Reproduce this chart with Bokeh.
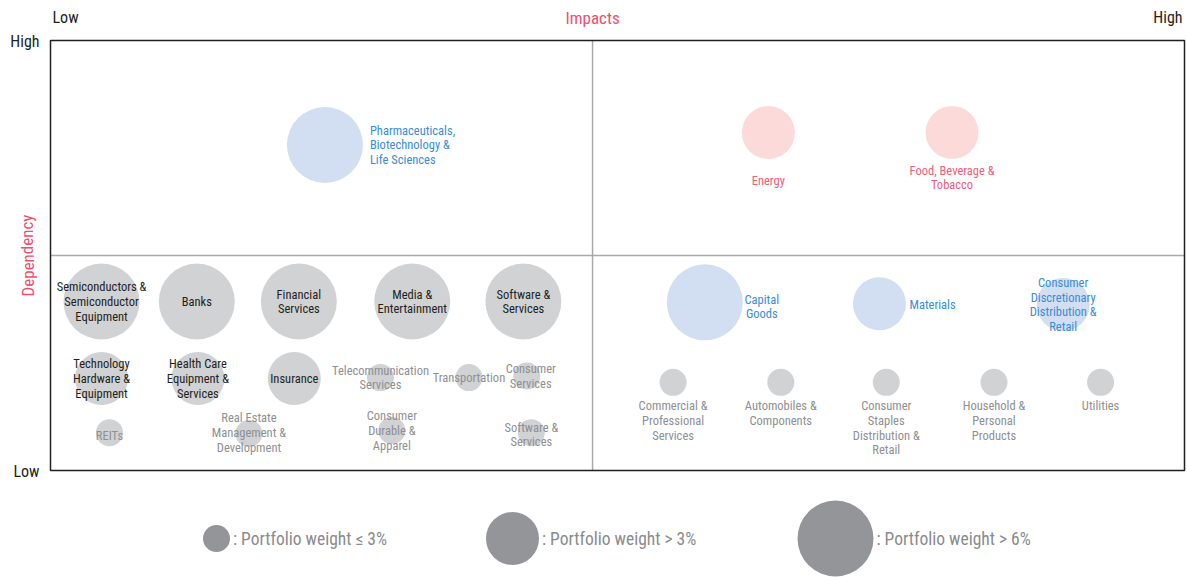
from bokeh.plotting import figure
from bokeh.models import Range1d, ColumnDataSource
from bokeh.embed import file_html
from bokeh.resources import INLINE
from bokeh.core.properties import value

# ---------------- data ----------------
sectors = [
    "Pharmaceuticals,\nBiotechnology &\nLife Sciences",
    "Energy",
    "Food, Beverage &\nTobacco",
    "Semiconductors &\nSemiconductor\nEquipment",
    "Banks",
    "Financial\nServices",
    "Media &\nEntertainment",
    "Software &\nServices",
    "Technology\nHardware &\nEquipment",
    "Health Care\nEquipment &\nServices",
    "Insurance",
    "Telecommunication\nServices",
    "Transportation",
    "Consumer\nServices",
    "REITs",
    "Real Estate\nManagement &\nDevelopment",
    "Consumer\nDurable &\nApparel",
    "Software &\nServices",
    "Capital\nGoods",
    "Materials",
    "Consumer\nDiscretionary\nDistribution &\nRetail",
    "Commercial &\nProfessional\nServices",
    "Automobiles &\nComponents",
    "Consumer\nStaples\nDistribution &\nRetail",
    "Household &\nPersonal\nProducts",
    "Utilities",
]
impact = [2.42, 6.33, 7.95, 0.45, 1.29, 2.19, 3.19, 4.17, 0.45, 1.30, 2.15,
          2.91, 3.69, 4.20, 0.52, 1.75, 3.01, 4.24, 5.77, 7.31, 8.93,
          5.49, 6.44, 7.37, 8.32, 9.26]
dependency = [7.57, 7.86, 7.86, 3.93, 3.93, 3.93, 3.93, 3.93, 2.14, 2.14, 2.14,
              2.16, 2.16, 2.20, 0.88, 0.86, 0.93, 0.88, 3.91, 3.88, 3.86,
              2.05, 2.05, 2.05, 2.05, 2.05]
weight_class = ["high", "mid", "mid", "high", "high", "high", "high", "high",
                "mid", "mid", "mid", "low", "low", "low", "low", "low", "low",
                "low", "high", "mid", "mid", "low", "low", "low", "low", "low"]
group = ["blue", "pink", "pink", "gray", "gray", "gray", "gray", "gray",
         "gray", "gray", "gray", "gray", "gray", "gray", "gray", "gray", "gray",
         "gray", "blue", "blue", "blue", "gray", "gray", "gray", "gray", "gray"]

legend_classes = ["low", "mid", "high"]
legend_labels = [": Portfolio weight \u2264 3%", ": Portfolio weight > 3%",
                 ": Portfolio weight > 6%"]

x_axis_title = "Impacts"
y_axis_title = "Dependency"
low_label, high_label = "Low", "High"
impact_split = 4.78
dependency_split = 5.0

# ---------------- styles / layout ----------------
FONT = "Roboto Condensed"
diam = {"low": 27, "mid": 53, "high": 76}
fill = {"blue": "#D2DEF1", "pink": "#FDDADA", "gray": "#D1D2D4"}
label_col = {"blue": "#3A8DD3", "pink": "#EF5D7A"}
PINK = "#EF4F6F"
DARK = "#231F20"
GRAY_TXT = "#8E8F92"

# label placement (align, baseline, x_offset px, y_offset px)
placement = [
    ("left", "middle", 45, 0),
    ("center", "middle", 0, 48),
    ("center", "middle", 0, 45),
] + [("center", "middle", 0, 0)] * 10 + [
    ("center", "middle", 4, 0),
    ("center", "middle", 0, 3),
    ("center", "middle", 0, -1),
    ("center", "middle", 0, 0),
    ("center", "middle", 0, 2),
    ("center", "middle", 57, 4),
    ("left", "middle", 30, 1),
    ("center", "middle", 0, 0),
] + [("center", "top", 0, 16)] * 5

W, H = 1187, 577
# pixel geometry of the quadrant frame
fx0, fx1, fy0, fy1 = 50, 1184, 40, 470
sx = (fx1 - fx0) / 10.0
sy = (fy1 - fy0) / 10.0
xr = Range1d((0 - fx0) / sx, (W - fx0) / sx)
yr = Range1d((fy1 - H) / sy, fy1 / sy)

p = figure(width=W, height=H, x_range=xr, y_range=yr, output_backend="svg",
           toolbar_location=None, min_border=0)
p.axis.visible = False
p.grid.visible = False
p.outline_line_color = None
p.background_fill_color = "white"

# quadrant dividers
p.segment(x0=[impact_split, 0], y0=[0, dependency_split],
          x1=[impact_split, 10], y1=[10, dependency_split],
          line_color="#A7A9AC", line_width=1.5)
# frame
p.quad(left=[0], right=[10], bottom=[0], top=[10], fill_color=None,
       line_color=DARK, line_width=1.5)

# bubbles
src = ColumnDataSource(dict(
    x=impact, y=dependency, name=sectors,
    size=[diam[w] for w in weight_class],
    fill=[fill[g] for g in group],
    tcol=[label_col[g] if g in label_col else (DARK if w != "low" else GRAY_TXT)
          for g, w in zip(group, weight_class)],
    align=[pl[0] for pl in placement],
    base=[pl[1] for pl in placement],
    xo=[pl[2] for pl in placement],
    yo=[pl[3] for pl in placement],
))
p.scatter("x", "y", size="size", source=src, fill_color="fill", line_color=None)
p.text("x", "y", text="name", source=src, text_color="tcol", text_align="align",
       text_baseline="base", x_offset="xo", y_offset="yo",
       text_font=value(FONT), text_font_size="12.5px", text_line_height=0.98)

# axis annotations
top_y = 10 + (fy0 - 17) / sy
p.text(x=[0, 10], y=[top_y, top_y], text=[low_label, high_label],
       text_align=["left", "right"], x_offset=[2, -2], text_baseline="middle",
       text_font=value(FONT), text_font_size="16px", text_color=DARK)
p.text(x=[impact_split], y=[top_y], text=[x_axis_title], text_align="center",
       text_baseline="middle", text_font=value(FONT), text_font_size="17px",
       text_color=PINK)
left_x = (39 - fx0) / sx
p.text(x=[left_x, left_x], y=[10, 0], text=[high_label, low_label],
       text_align="right", text_baseline="middle", y_offset=[1, 1],
       text_font=value(FONT), text_font_size="16px", text_color=DARK)
p.text(x=[(27 - fx0) / sx], y=[dependency_split], text=[y_axis_title],
       angle=1.5708, text_align="center", text_baseline="middle",
       text_font=value(FONT), text_font_size="17px", text_color=PINK)

# size legend
leg_y = (fy1 - 538) / sy
leg_x = [(216 - fx0) / sx, (512 - fx0) / sx, (835 - fx0) / sx]
leg_d = [diam[c] for c in legend_classes]
p.scatter(leg_x, [leg_y] * 3, size=leg_d, fill_color="#939598", line_color=None)
p.text(x=leg_x, y=[leg_y] * 3, text=legend_labels, x_offset=[d / 2 + 3 for d in leg_d],
       text_align="left", text_baseline="middle", text_font=value(FONT),
       text_font_size="17.5px", text_color="#8A8B8E")

open("out.html", "w").write(file_html(p, INLINE))
